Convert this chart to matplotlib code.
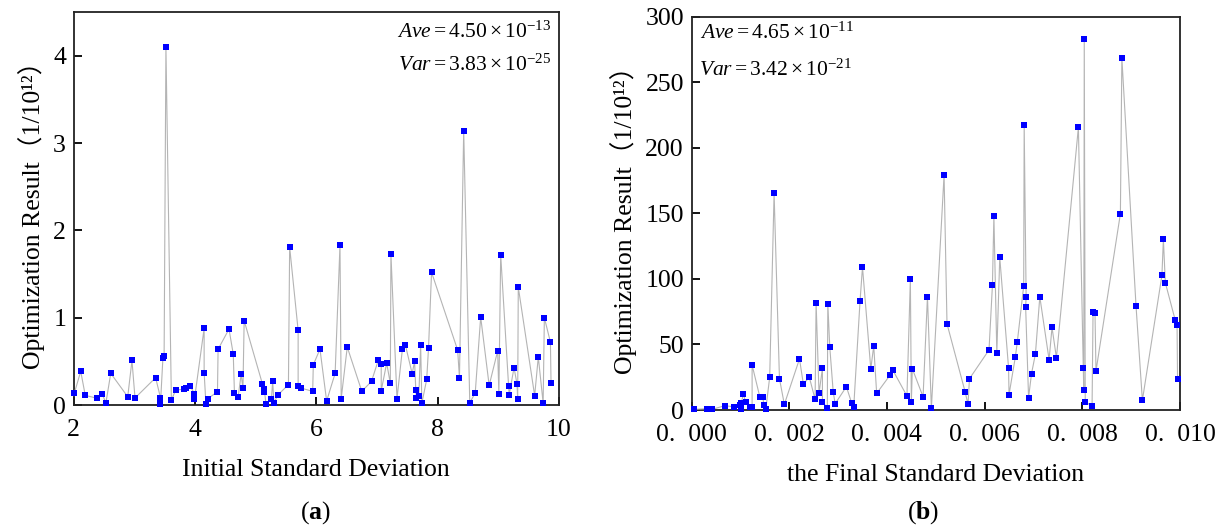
import matplotlib
matplotlib.use('Agg')

import numpy as np
import matplotlib.pyplot as plt
from matplotlib.ticker import FuncFormatter

# (a) initial standard deviation vs. optimisation result (units of 1e-12)
init_std = [2.01, 2.115, 2.19, 2.39, 2.47, 2.53, 2.61, 2.89, 2.96, 3.01,
            3.35, 3.43, 3.43, 3.47, 3.49, 3.52, 3.61, 3.68, 3.81, 3.85,
            3.92, 3.99, 3.99, 4.15, 4.15, 4.18, 4.21, 4.37, 4.38, 4.56,
            4.63, 4.65, 4.71, 4.76, 4.79, 4.81, 5.11, 5.13, 5.14, 5.17,
            5.26, 5.28, 5.30, 5.37, 5.54, 5.56, 5.70, 5.70, 5.74, 5.94,
            5.95, 6.06, 6.17, 6.31, 6.39, 6.41, 6.51, 6.75, 6.91, 7.02,
            7.07, 7.07, 7.16, 7.22, 7.23, 7.33, 7.42, 7.47, 7.58, 7.62,
            7.64, 7.65, 7.69, 7.72, 7.74, 7.82, 7.85, 7.90, 8.33, 8.36,
            8.43, 8.53, 8.62, 8.71, 8.85, 8.99, 9.01, 9.04, 9.17, 9.18,
            9.26, 9.31, 9.32, 9.33, 9.60, 9.66, 9.74, 9.76, 9.86, 9.87]
init_res = [0.137, 0.386, 0.11, 0.077, 0.126, 0.023, 0.363, 0.095, 0.51, 0.08,
            0.313, 0.084, 0.015, 0.535, 0.565, 4.10, 0.054, 0.172, 0.18, 0.19,
            0.218, 0.13, 0.065, 0.878, 0.37, 0.008, 0.072, 0.153, 0.638, 0.87,
            0.584, 0.134, 0.088, 0.355, 0.19, 0.966, 0.244, 0.149, 0.187, 0.011,
            0.069, 0.275, 0.027, 0.118, 0.233, 1.81, 0.855, 0.218, 0.195, 0.157,
            0.46, 0.64, 0.046, 0.363, 1.83, 0.072, 0.664, 0.157, 0.271, 0.51,
            0.466, 0.164, 0.48, 0.248, 1.73, 0.072, 0.645, 0.684, 0.359, 0.50,
            0.175, 0.077, 0.10, 0.69, 0.019, 0.294, 0.653, 1.52, 0.63, 0.313,
            3.14, 0.027, 0.137, 1.008, 0.225, 0.619, 0.13, 1.72, 0.222, 0.118,
            0.428, 0.237, 0.069, 1.35, 0.107, 0.55, 0.023, 1.00, 0.72, 0.255]

# (b) final standard deviation (in 1e-3) vs. optimisation result
final_std_e3 = [0.05, 0.32, 0.42, 0.68, 0.86, 1.00, 1.02, 1.02, 1.06, 1.11,
                1.20, 1.24, 1.24, 1.40, 1.46, 1.48, 1.52, 1.60, 1.69, 1.80,
                1.90, 2.21, 2.29, 2.41, 2.53, 2.55, 2.61, 2.68, 2.68, 2.78,
                2.79, 2.83, 2.90, 2.94, 3.17, 3.28, 3.32, 3.45, 3.50, 3.67,
                3.73, 3.79, 4.06, 4.12, 4.41, 4.48, 4.50, 4.52, 4.74, 4.83,
                4.91, 5.17, 5.23, 5.60, 5.66, 5.69, 6.09, 6.16, 6.19, 6.25,
                6.31, 6.49, 6.50, 6.63, 6.67, 6.80, 6.81, 6.85, 6.84, 6.90,
                6.96, 7.04, 7.13, 7.32, 7.38, 7.47, 7.92, 8.02, 8.03, 8.04,
                8.06, 8.20, 8.22, 8.26, 8.28, 8.78, 8.81, 9.10, 9.23, 9.63,
                9.66, 9.70, 9.90, 9.94, 9.95]
final_res = [0.5, 1.0, 0.5, 3.3, 2.5, 3.6, 0.5, 5.6, 12, 6.1,
             2, 2, 34.3, 9.7, 9.7, 4.1, 0.5, 25, 165.3, 23.9,
             4.3, 39, 19.6, 25.2, 8.1, 81.9, 12.7, 32, 6.1, 1.8,
             81.1, 48, 14, 4.8, 17.8, 5.1, 2, 83.4, 109, 31.3,
             49, 12.7, 26.4, 30.5, 10.7, 99.9, 6.1, 31.5, 10.1, 86.4,
             1.3, 179.3, 65.8, 14, 4.3, 23.9, 45.8, 95.1, 148, 43.5,
             116.5, 32.3, 11.7, 40.7, 52.1, 94.6, 217.4, 86.4, 78.6, 9.4,
             27.7, 42.7, 86.4, 38.4, 63, 39.9, 215.6, 32.3, 15.3, 283.3,
             6.4, 2.8, 75, 73.7, 29.7, 149.8, 268.5, 79.3, 7.4, 102.7,
             130.2, 97.1, 68.9, 64.6, 23.9]

plt.rcParams['font.family'] = ['Liberation Serif', 'Noto Sans CJK SC']
plt.rcParams['mathtext.fontset'] = 'custom'
plt.rcParams['mathtext.rm'] = 'Liberation Serif'
plt.rcParams['mathtext.it'] = 'Liberation Serif:italic'
plt.rcParams['mathtext.bf'] = 'Liberation Serif:bold'

TICK_FS = 18.5
LABEL_FS = 18.5
NOTE_FS = 15.5

fig = plt.figure(figsize=(12.19, 5.26), dpi=100)
ax1 = fig.add_axes([0.0605, 0.230, 0.398, 0.747])
ax2 = fig.add_axes([0.5673, 0.2205, 0.4007, 0.7477])

line_kw = dict(color='#b4b4b4', lw=0.8, marker='s', ms=4.2,
               mfc='#0000ff', mec='#0000ff', mew=0, clip_on=False, zorder=3)

ax1.plot(init_std, init_res, **line_kw)
ax2.plot(np.array(final_std_e3) * 1e-3, final_res, **line_kw)

ax1.set_xlim(2, 10)
ax1.set_ylim(0, 4.5)
ax1.set_xticks([2, 4, 6, 8, 10])
ax1.set_yticks([0, 1, 2, 3, 4])

ax2.set_xlim(0, 0.010)
ax2.set_ylim(0, 300)
ax2.set_xticks(np.arange(0, 0.0101, 0.002))
ax2.set_yticks(np.arange(0, 301, 50))
# wide decimal point, as in the original typesetting
ax2.xaxis.set_major_formatter(
    FuncFormatter(lambda v, p: '{:.3f}'.format(v).replace('.', '.\u2002')))

for ax in (ax1, ax2):
    for s in ax.spines.values():
        s.set_linewidth(1.3)
        s.set_color('#222222')
    ax.tick_params(direction='in', length=6, width=1.3, labelsize=TICK_FS,
                   top=False, right=False)
    ax.tick_params(axis='x', pad=10)
    ax.tick_params(axis='y', pad=5.5)
    ax.set_ylabel('Optimization Result\uff081/10\u00b9\u00b2\uff09',
                  fontsize=LABEL_FS, labelpad=6)

ax1.set_xlabel('Initial Standard Deviation', fontsize=LABEL_FS, labelpad=13)
ax2.set_xlabel('the Final Standard Deviation', fontsize=LABEL_FS, labelpad=13)

ax1.text(0.985, 0.95, r'$\mathit{Ave}=4.50\times10^{-13}$',
         transform=ax1.transAxes, ha='right', va='center', fontsize=NOTE_FS)
ax1.text(0.985, 0.865, r'$\mathit{Var}=3.83\times10^{-25}$',
         transform=ax1.transAxes, ha='right', va='center', fontsize=NOTE_FS)
ax2.text(0.017, 0.958, r'$\mathit{Ave}=4.65\times10^{-11}$',
         transform=ax2.transAxes, ha='left', va='center', fontsize=NOTE_FS)
ax2.text(0.015, 0.864, r'$\mathit{Var}=3.42\times10^{-21}$',
         transform=ax2.transAxes, ha='left', va='center', fontsize=NOTE_FS)

fig.text(0.259, 0.025, r'($\mathbf{a}$)', ha='center', va='center', fontsize=LABEL_FS)
fig.text(0.757, 0.025, r'($\mathbf{b}$)', ha='center', va='center', fontsize=LABEL_FS)

fig.savefig('out.png', dpi=100)
